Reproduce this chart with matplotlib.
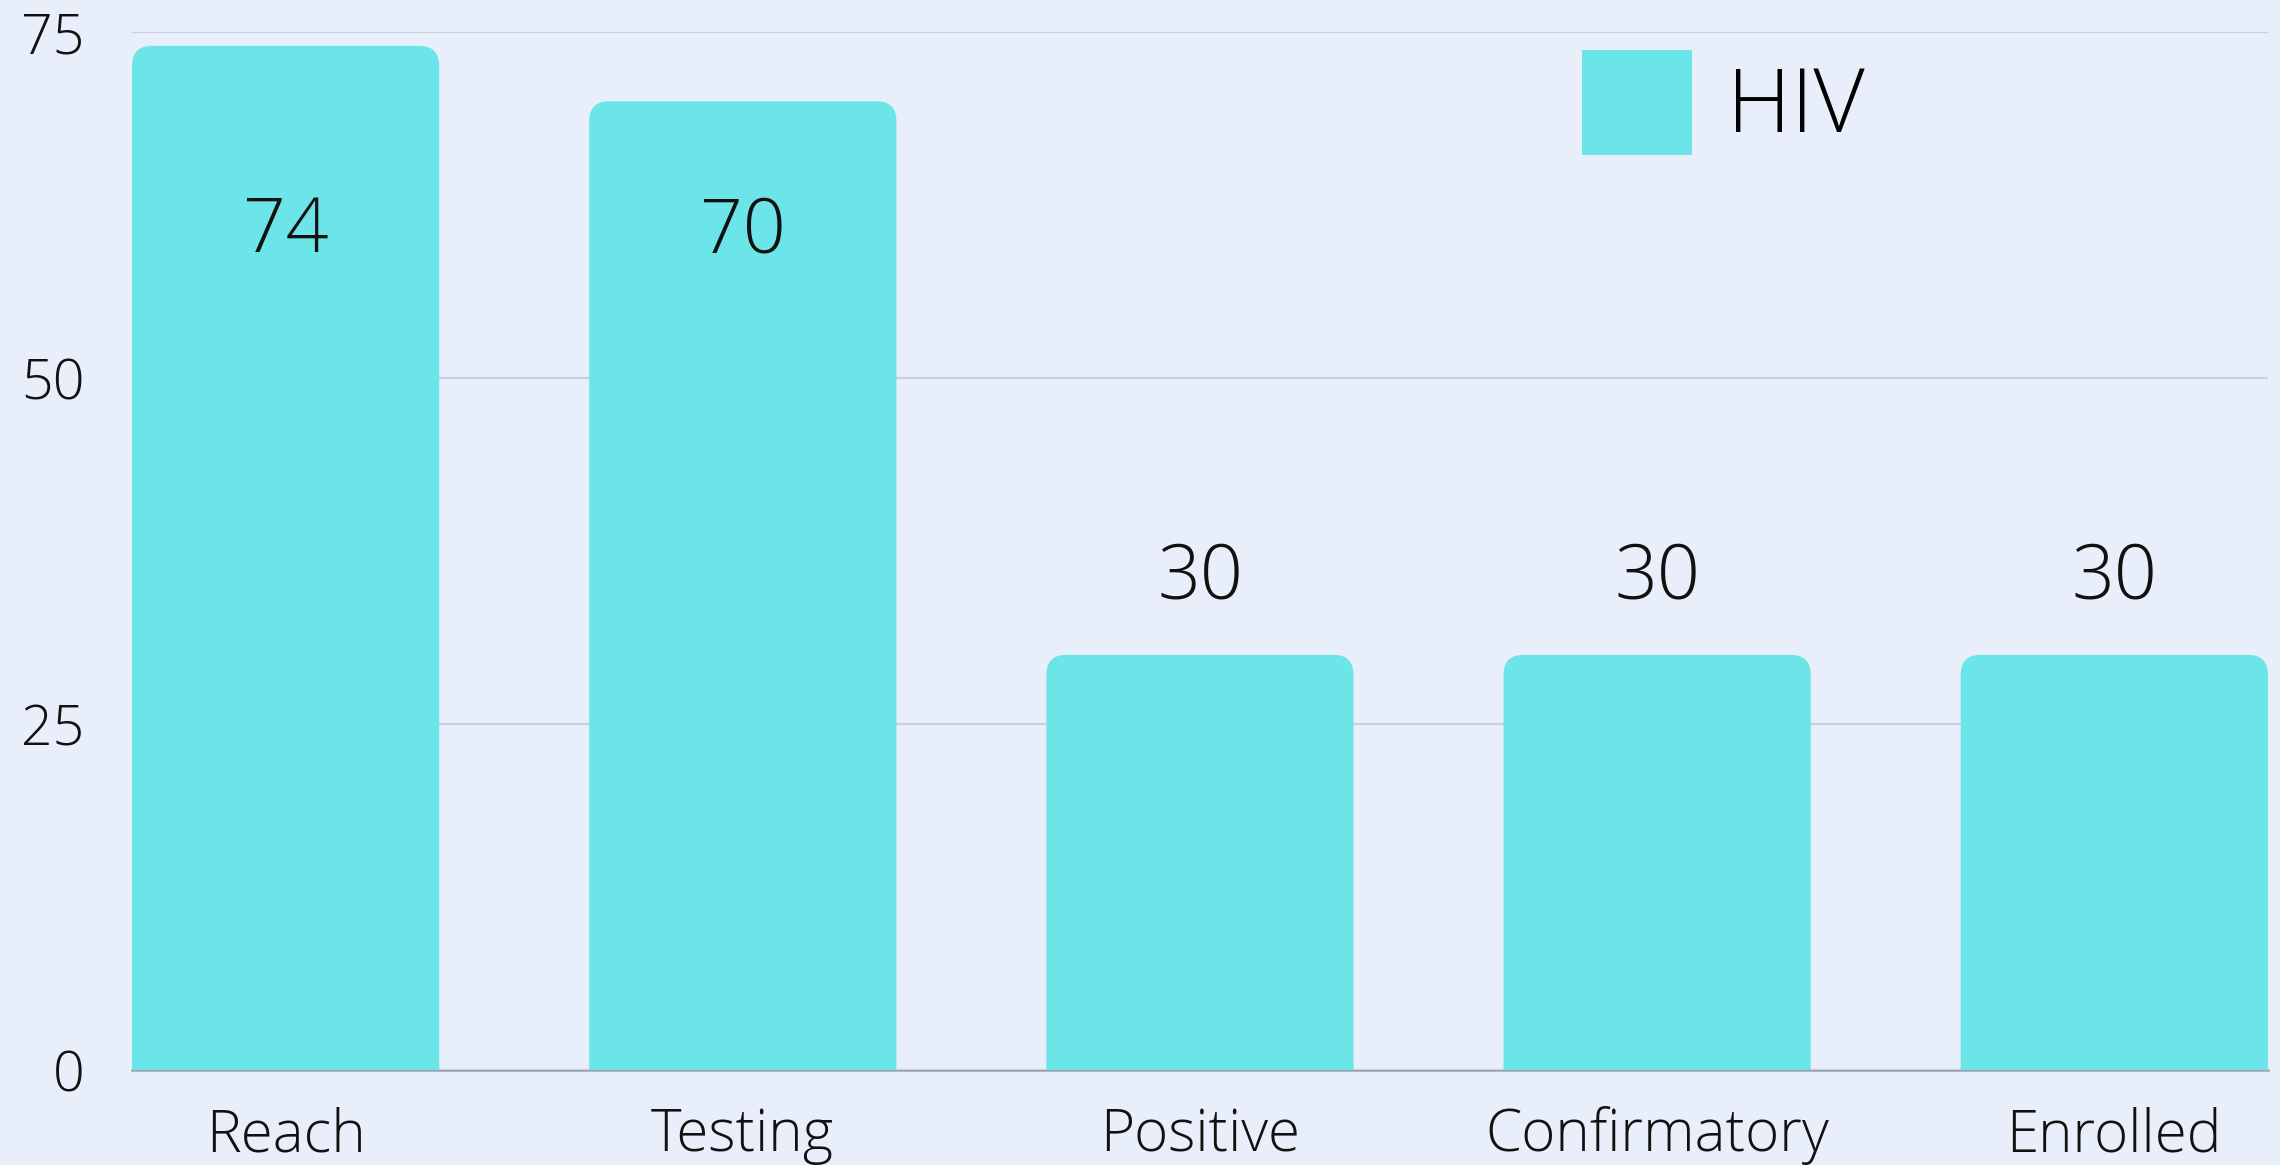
import matplotlib.pyplot as plt
from matplotlib.patches import FancyBboxPatch, Patch

categories = ['Reach', 'Testing', 'Positive', 'Confirmatory', 'Enrolled']
hiv_values = [74, 70, 30, 30, 30]
y_ticks = [0, 25, 50, 75]

bg_color = '#E8EEFA'
bar_color = '#6CE5E8'

plt.rcParams['font.family'] = ['Open Sans', 'DejaVu Sans']
plt.rcParams['font.weight'] = 'light'

fig = plt.figure(figsize=(22.8, 11.65), dpi=100)
fig.patch.set_facecolor(bg_color)
ax = fig.add_axes([0.0579, 0.0815, 0.9368, 0.891])
ax.set_facecolor(bg_color)

x = list(range(len(categories)))
bars = ax.bar(x, hiv_values, width=0.672, color=bar_color, zorder=2)

ax.set_xlim(-0.336, len(categories) - 1 + 0.336)
ax.set_ylim(0, 75)

# swap plain rectangles for rounded ones (bottom corners hidden below 0)
x_px = 2136 / (ax.get_xlim()[1] - ax.get_xlim()[0])
y_px = 1038 / 75
aspect = x_px / y_px
radius = 20 / x_px
for rect in bars.patches:
    bx, bw, bh = rect.get_x(), rect.get_width(), rect.get_height()
    rect.set_visible(False)
    rounded = FancyBboxPatch((bx, -5), bw, bh + 5,
                             boxstyle=f'round,pad=0,rounding_size={radius}',
                             mutation_aspect=aspect, facecolor=bar_color,
                             edgecolor='none', zorder=2)
    ax.add_patch(rounded)

for xi, v in zip(x, hiv_values):
    label_y = min(v + 5.5, 60.5)
    ax.text(xi, label_y, str(v), ha='center', va='center',
            fontsize=54, color='#111111', zorder=3)

ax.set_yticks(y_ticks)
ax.set_xticks(x)
ax.set_xticklabels(categories)
ax.tick_params(axis='both', length=0, labelsize=40, colors='#111111')
ax.tick_params(axis='y', pad=34)
ax.tick_params(axis='x', pad=26, labelsize=42)

ax.grid(axis='y', color='#C9CFDC', linewidth=1.6, zorder=0)
for side in ['top', 'right', 'left']:
    ax.spines[side].set_visible(False)
ax.spines['bottom'].set_color('#9DA3AE')
ax.spines['bottom'].set_linewidth(1.8)
ax.spines['bottom'].set_zorder(1)

handle = Patch(facecolor=bar_color, edgecolor='none')
leg = ax.legend([handle], ['HIV'], loc='upper left',
                bbox_to_anchor=(0.679, 0.983), frameon=False,
                fontsize=64, handlelength=1.23, handleheight=1.45,
                handletextpad=0.4, borderpad=0, borderaxespad=0)

fig.savefig('out.png', dpi=100, facecolor=bg_color)
